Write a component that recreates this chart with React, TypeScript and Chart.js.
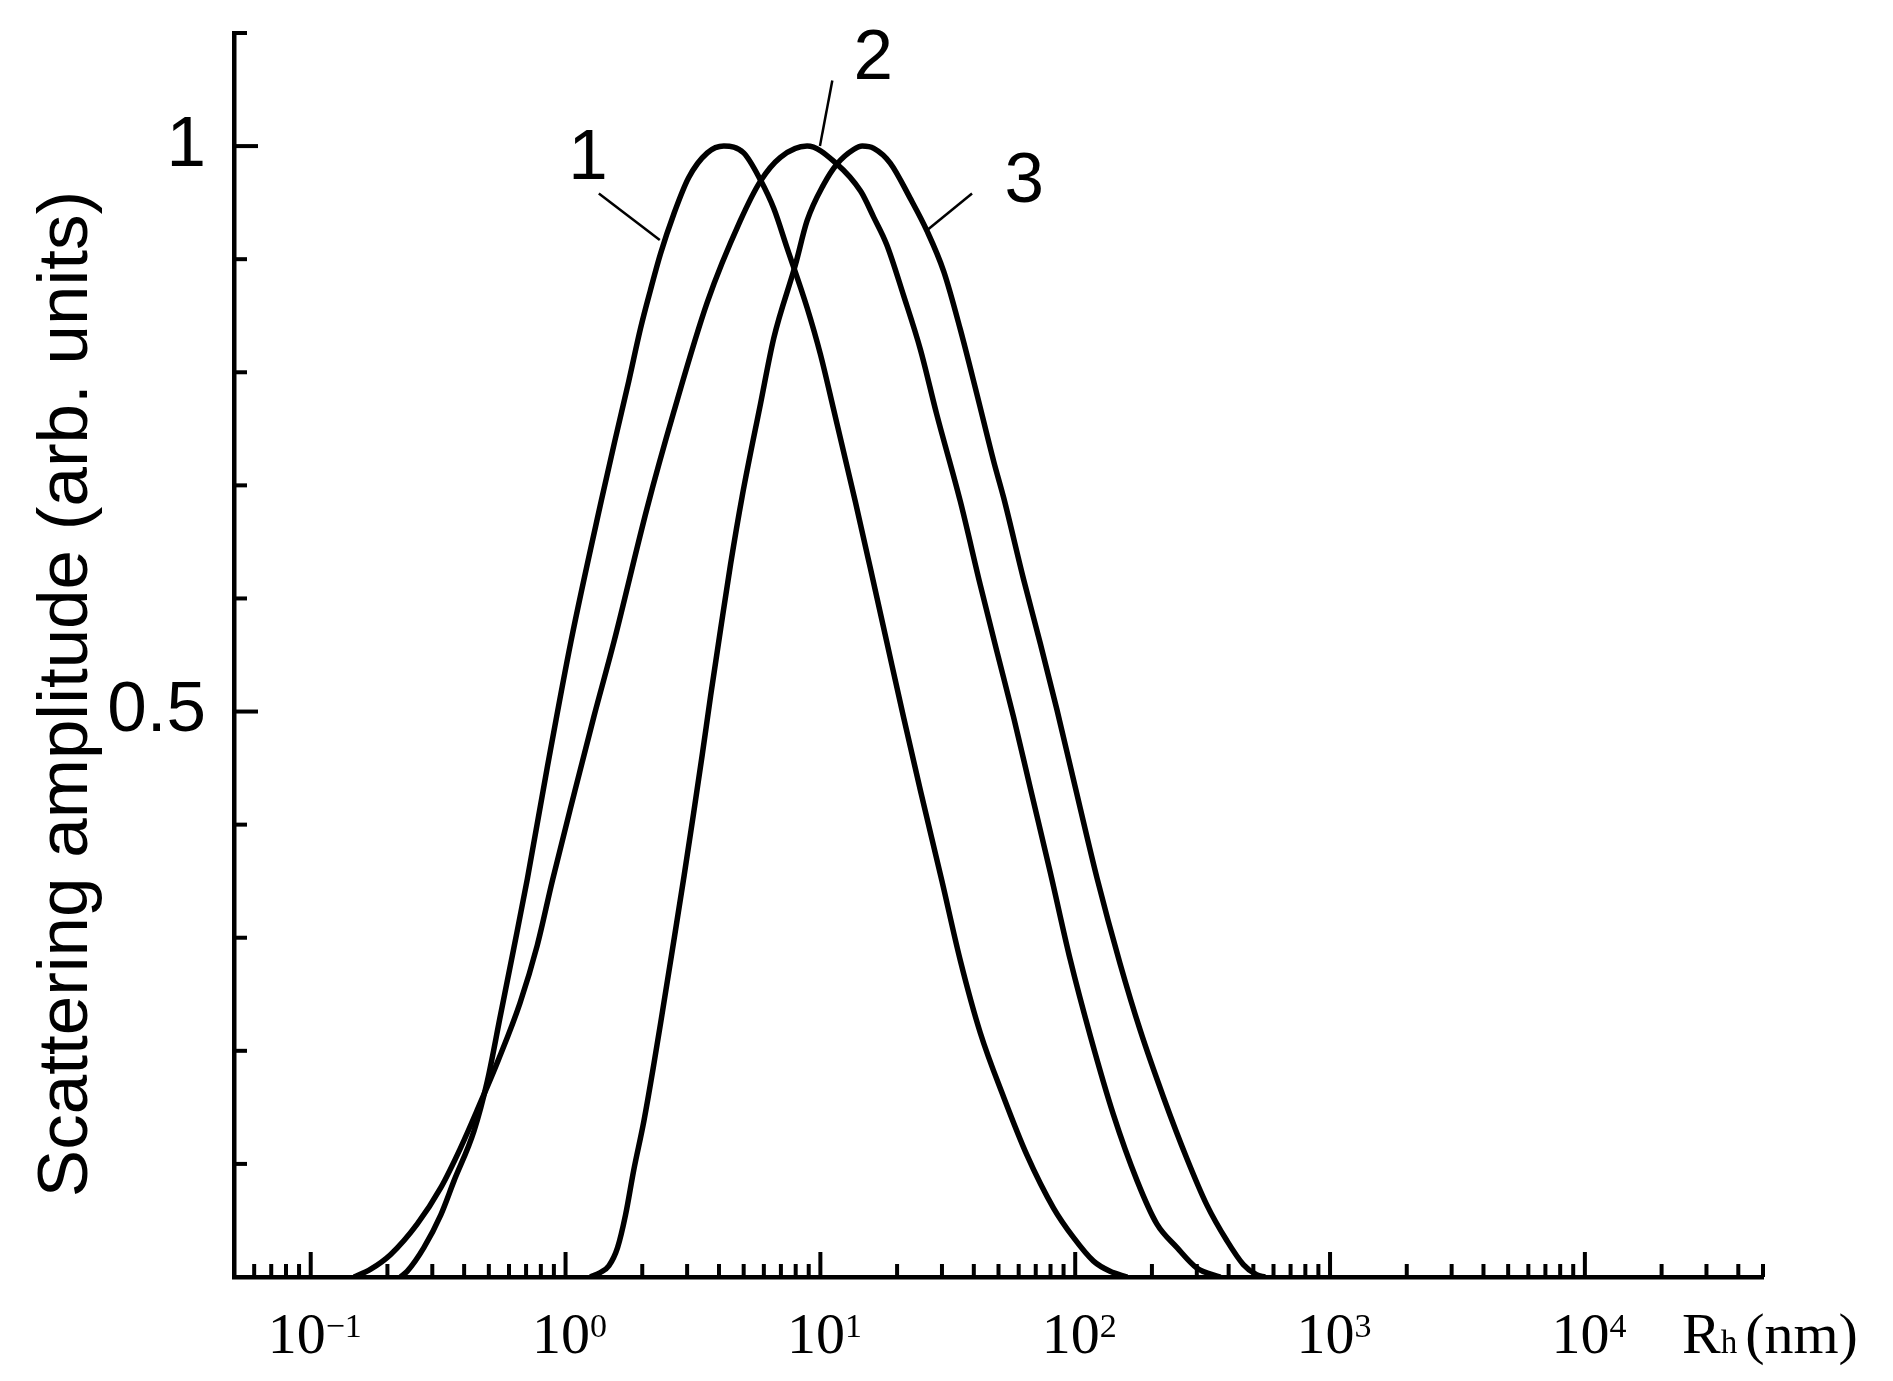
import React, { useEffect, useRef } from "react";
import { Chart, registerables } from "chart.js";

Chart.register(...registerables);

const W = 1893;
const H = 1381;

// ---- Data ----
const series1X = [0.225, 0.239, 0.278, 0.324, 0.365, 0.437, 0.493, 0.556, 0.627, 0.708, 0.847, 1.05, 1.38, 1.56, 1.77, 1.97, 2.15, 2.36, 2.66, 3.04, 3.6, 4.18, 5.0, 5.82, 6.56, 7.4, 8.87, 10.0, 11.3, 13.7, 15.7, 18.2, 21.2, 24.7, 30.0, 35.4, 42.4, 52.4, 64.6, 82.2, 98.4, 118, 137, 160];
const series1Y = [0, 0.005, 0.026, 0.055, 0.085, 0.129, 0.173, 0.232, 0.291, 0.352, 0.45, 0.562, 0.686, 0.739, 0.792, 0.839, 0.872, 0.905, 0.94, 0.972, 0.994, 1.0, 0.994, 0.97, 0.945, 0.91, 0.857, 0.816, 0.766, 0.686, 0.627, 0.562, 0.495, 0.43, 0.35, 0.28, 0.216, 0.159, 0.108, 0.061, 0.035, 0.014, 0.005, 0];

const series2X = [0.148, 0.172, 0.206, 0.262, 0.324, 0.387, 0.455, 0.545, 0.662, 0.774, 0.887, 1.08, 1.29, 1.55, 2.09, 2.66, 3.6, 4.85, 5.82, 6.97, 8.87, 11.5, 14.4, 16.2, 18.2, 21.2, 24.7, 28.6, 35.4, 42.4, 49.3, 57.3, 66.7, 79.8, 95.5, 115, 141, 175, 209, 251, 300, 371];
const series2Y = [0, 0.007, 0.02, 0.047, 0.079, 0.114, 0.15, 0.192, 0.242, 0.293, 0.35, 0.427, 0.495, 0.562, 0.68, 0.765, 0.862, 0.934, 0.969, 0.99, 1.0, 0.985, 0.96, 0.937, 0.913, 0.868, 0.82, 0.763, 0.686, 0.612, 0.553, 0.495, 0.432, 0.358, 0.281, 0.212, 0.144, 0.085, 0.047, 0.026, 0.008, 0];

const series3X = [1.25, 1.37, 1.48, 1.6, 1.72, 1.85, 2.03, 2.22, 2.39, 2.62, 2.92, 3.18, 3.44, 3.71, 4.06, 4.44, 4.93, 5.82, 6.56, 7.98, 8.87, 10.3, 11.6, 13.5, 14.6, 16.2, 18.8, 22.5, 26.2, 30.5, 35.4, 41.2, 47.9, 52.4, 62.7, 73.0, 84.7, 98.4, 122, 150, 180, 222, 274, 328, 394, 457, 515, 556];
const series3Y = [0, 0.004, 0.01, 0.026, 0.055, 0.094, 0.138, 0.188, 0.232, 0.288, 0.355, 0.41, 0.462, 0.514, 0.573, 0.63, 0.69, 0.772, 0.83, 0.895, 0.934, 0.966, 0.984, 0.997, 1.0, 0.998, 0.985, 0.954, 0.925, 0.889, 0.838, 0.78, 0.721, 0.689, 0.617, 0.56, 0.502, 0.44, 0.352, 0.277, 0.218, 0.159, 0.105, 0.064, 0.032, 0.011, 0.002, 0];

// ---- Axes ----
const xMin = 0.05;
const xMax = 50000;
const yMin = 0;
const yMax = 1.1;
const xMajorTicks = [0.1, 1, 10, 100, 1000, 10000];
const xTickBase = "10";
const xTickExponents = ["\u22121", "0", "1", "2", "3", "4"];
const xMinorTicks = [
  0.06, 0.07, 0.08, 0.09,
  0.2, 0.3, 0.4, 0.5, 0.6, 0.7, 0.8, 0.9,
  2, 3, 4, 5, 6, 7, 8, 9,
  20, 30, 40, 50, 60, 70, 80, 90,
  200, 300, 400, 500, 600, 700, 800, 900,
  2000, 3000, 4000, 5000, 6000, 7000, 8000, 9000,
  20000, 30000, 40000, 50000,
];
const yMajorTicks = [0.5, 1];
const yTickLabels = ["0.5", "1"];
const yMinorTicks = [0.1, 0.2, 0.3, 0.4, 0.6, 0.7, 0.8, 0.9, 1.1];

const yAxisTitle = "Scattering amplitude (arb. units)";
const xAxisSymbol = "R";
const xAxisSubscript = "h";
const xAxisUnit = "(nm)";

// ---- Curve labels and leader lines ----
const curveLabels = ["1", "2", "3"];
const curveLabelX = [1.226, 16.14, 63.1];
const curveLabelY = [0.988, 1.077, 0.968];
const leaderX1 = [1.351, 11.14, 39.36];
const leaderY1 = [0.958, 1.058, 0.958];
const leaderX2 = [2.343, 9.96, 26.35];
const leaderY2 = [0.917, 1.0, 0.926];

const SANS = '"Liberation Sans", Arial, Helvetica, sans-serif';
const SERIF = '"Liberation Serif", "Times New Roman", "DejaVu Serif", serif';

const inwardTicks = {
  id: "inwardTicks",
  afterDraw(chart: any) {
    const { ctx, chartArea: a } = chart;
    const xs = chart.scales.x;
    const ys = chart.scales.y;
    ctx.save();
    ctx.strokeStyle = "#000";
    ctx.lineWidth = 4;
    const xTick = (v: number, len: number) => {
      const p = xs.getPixelForValue(v);
      ctx.beginPath();
      ctx.moveTo(p, a.bottom);
      ctx.lineTo(p, a.bottom - len);
      ctx.stroke();
    };
    const yTick = (v: number, len: number) => {
      const p = ys.getPixelForValue(v);
      ctx.beginPath();
      ctx.moveTo(a.left, p);
      ctx.lineTo(a.left + len, p);
      ctx.stroke();
    };
    xMinorTicks.forEach((v) => xTick(v, 13));
    xMajorTicks.forEach((v) => xTick(v, 25));
    yMinorTicks.forEach((v) => yTick(v, 13));
    yMajorTicks.forEach((v) => yTick(v, 24));

    // x tick labels: 10 with raised exponent
    const baseY = a.bottom + 76;
    ctx.fillStyle = "#000";
    ctx.textAlign = "left";
    ctx.textBaseline = "alphabetic";
    for (let i = 0; i < xMajorTicks.length; i++) {
      const p = xs.getPixelForValue(xMajorTicks[i]);
      ctx.font = `58px ${SERIF}`;
      const wb = ctx.measureText(xTickBase).width;
      ctx.font = `34px ${SERIF}`;
      const we = ctx.measureText(xTickExponents[i]).width;
      const x0 = p - (wb + we) / 2 + 4;
      ctx.font = `58px ${SERIF}`;
      ctx.fillText(xTickBase, x0, baseY);
      ctx.font = `34px ${SERIF}`;
      ctx.fillText(xTickExponents[i], x0 + wb, baseY - 16);
    }
    ctx.restore();
  },
};

const annotations = {
  id: "annotations",
  afterDraw(chart: any) {
    const { ctx, chartArea: a } = chart;
    const xs = chart.scales.x;
    const ys = chart.scales.y;
    ctx.save();
    ctx.fillStyle = "#000";
    ctx.strokeStyle = "#000";
    ctx.lineWidth = 2.5;
    for (let i = 0; i < curveLabels.length; i++) {
      ctx.beginPath();
      ctx.moveTo(xs.getPixelForValue(leaderX1[i]), ys.getPixelForValue(leaderY1[i]));
      ctx.lineTo(xs.getPixelForValue(leaderX2[i]), ys.getPixelForValue(leaderY2[i]));
      ctx.stroke();
    }
    ctx.font = `71px ${SANS}`;
    ctx.textAlign = "center";
    ctx.textBaseline = "middle";
    for (let i = 0; i < curveLabels.length; i++) {
      ctx.fillText(curveLabels[i], xs.getPixelForValue(curveLabelX[i]), ys.getPixelForValue(curveLabelY[i]));
    }

    // y-axis title
    ctx.save();
    ctx.translate(a.left - 147, 694);
    ctx.rotate(-Math.PI / 2);
    ctx.textAlign = "center";
    ctx.textBaseline = "alphabetic";
    ctx.font = `71px ${SANS}`;
    ctx.fillText(yAxisTitle, 0, 0);
    ctx.restore();

    // x-axis title R_h (nm)
    const baseY = a.bottom + 76;
    let x = a.right - 81;
    ctx.textAlign = "left";
    ctx.textBaseline = "alphabetic";
    ctx.font = `58px ${SERIF}`;
    ctx.fillText(xAxisSymbol, x, baseY);
    x += ctx.measureText(xAxisSymbol).width;
    ctx.font = `33px ${SERIF}`;
    ctx.fillText(xAxisSubscript, x, baseY);
    x += ctx.measureText(xAxisSubscript).width + 8;
    ctx.font = `58px ${SERIF}`;
    ctx.fillText(xAxisUnit, x, baseY);
    ctx.restore();
  },
};

export default function App() {
  const canvasRef = useRef<HTMLCanvasElement | null>(null);

  useEffect(() => {
    const canvas = canvasRef.current;
    if (!canvas) return;
    const mk = (xsArr: number[], ysArr: number[]) => xsArr.map((x, i) => ({ x, y: ysArr[i] }));
    const lineStyle = {
      borderColor: "#000",
      backgroundColor: "#000",
      borderWidth: 5.5,
      pointRadius: 0,
      cubicInterpolationMode: "monotone",
      fill: false,
    };
    const chart = new Chart(canvas, {
      type: "line",
      data: {
        datasets: [
          { label: "1", data: mk(series1X, series1Y), ...lineStyle },
          { label: "2", data: mk(series2X, series2Y), ...lineStyle },
          { label: "3", data: mk(series3X, series3Y), ...lineStyle },
        ],
      },
      options: {
        responsive: false,
        animation: false,
        devicePixelRatio: 1,
        layout: { padding: { top: 33, right: 130, left: 0, bottom: 0 } },
        elements: { line: { borderWidth: 5.5, borderColor: "#000" }, point: { radius: 0 } },
        plugins: {
          legend: { display: false },
          tooltip: { enabled: false },
          title: { display: false },
        },
        scales: {
          x: {
            type: "logarithmic",
            position: "bottom",
            min: xMin,
            max: xMax,
            bounds: "data",
            grid: { display: true, drawOnChartArea: false, drawTicks: false, color: "rgba(0,0,0,0)" },
            border: { display: true, color: "#000", width: 4.5 },
            ticks: { display: false },
            afterBuildTicks: (s: any) => {
              s.ticks = xMajorTicks.map((v) => ({ value: v }));
            },
            afterFit: (s: any) => {
              s.height = 104;
            },
          },
          y: {
            type: "linear",
            position: "left",
            min: yMin,
            max: yMax,
            bounds: "data",
            grid: {
              display: true,
              drawOnChartArea: false,
              drawTicks: true,
              tickLength: 28,
              tickColor: "rgba(0,0,0,0)",
              color: "rgba(0,0,0,0)",
            },
            border: { display: true, color: "#000", width: 4.5 },
            ticks: {
              padding: 0,
              color: "#000",
              font: { family: SANS, size: 71, lineHeight: 0.4 },
              callback: (_v: any, i: number) => yTickLabels[i],
            },
            afterBuildTicks: (s: any) => {
              s.ticks = yMajorTicks.map((v) => ({ value: v }));
            },
            afterFit: (s: any) => {
              s.width = 234;
            },
          },
        },
      },
      plugins: [inwardTicks, annotations],
    } as any);
    return () => chart.destroy();
  }, []);

  return (
    <div style={{ position: "absolute", left: 0, top: 0, width: W, height: H, background: "#fff" }}>
      <canvas ref={canvasRef} width={W} height={H} style={{ display: "block", width: W, height: H }} />
    </div>
  );
}
